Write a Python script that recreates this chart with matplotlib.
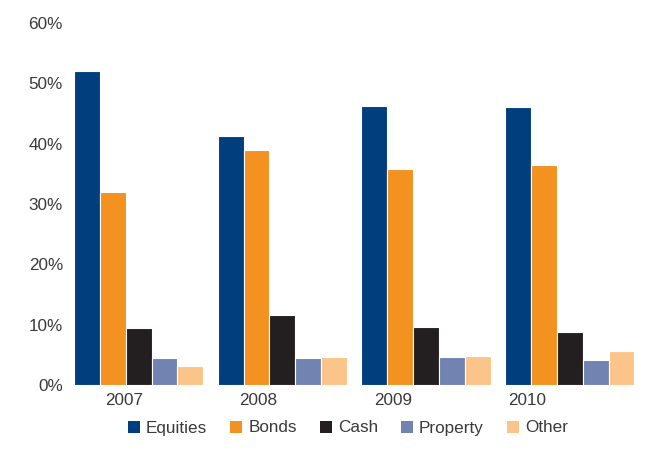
import numpy as np
import matplotlib
matplotlib.use("Agg")
import matplotlib.pyplot as plt
from matplotlib.patches import Patch

years = ["2007", "2008", "2009", "2010"]
series = ["Equities", "Bonds", "Cash", "Property", "Other"]
equities = [52.1, 41.3, 46.3, 46.1]
bonds = [32.0, 39.0, 35.8, 36.5]
cash = [9.5, 11.6, 9.6, 8.8]
prop = [4.5, 4.5, 4.6, 4.1]
other = [3.2, 4.6, 4.8, 5.6]
colors = ["#003E7E", "#F39220", "#231F20", "#7083B1", "#FBC58A"]

values = [equities, bonds, cash, prop, other]
text_color = "#3a3a3a"
plt.rcParams["font.family"] = ["Liberation Sans", "DejaVu Sans"]
fs = 12.3

fig = plt.figure(figsize=(6.64, 4.55), dpi=100)
ax = fig.add_axes([74 / 664, 1 - 385 / 455, (634.5 - 74) / 664, (385 - 23) / 455])

x = np.arange(len(years))
step = 0.18
for i, (vals, c) in enumerate(zip(values, colors)):
    ax.bar(x + (i - 2) * step, vals, width=step, color=c,
           edgecolor="white", linewidth=0.8, label=series[i])

ax.set_xlim(-0.45, 3.45)
ax.set_ylim(0, 60)
ax.set_yticks(np.arange(0, 61, 10))
ax.set_yticklabels([f"{v}%" for v in range(0, 61, 10)])
ax.set_xticks(-0.10 + 0.935 * x)
ax.set_xticklabels(years)
ax.tick_params(length=0, labelsize=fs, colors=text_color)
ax.tick_params(axis="y", pad=8)
ax.tick_params(axis="x", pad=6)
for s in ax.spines.values():
    s.set_visible(False)

handles = [Patch(facecolor=c, edgecolor="none") for c in colors]
fig.legend(handles, series, loc="center", bbox_to_anchor=(348 / 664, 1 - 428 / 455),
           ncol=5, frameon=False, fontsize=fs, labelcolor=text_color,
           handlelength=0.7, handleheight=0.7, handletextpad=0.35, columnspacing=1.35)

fig.savefig("out.png", dpi=100)
